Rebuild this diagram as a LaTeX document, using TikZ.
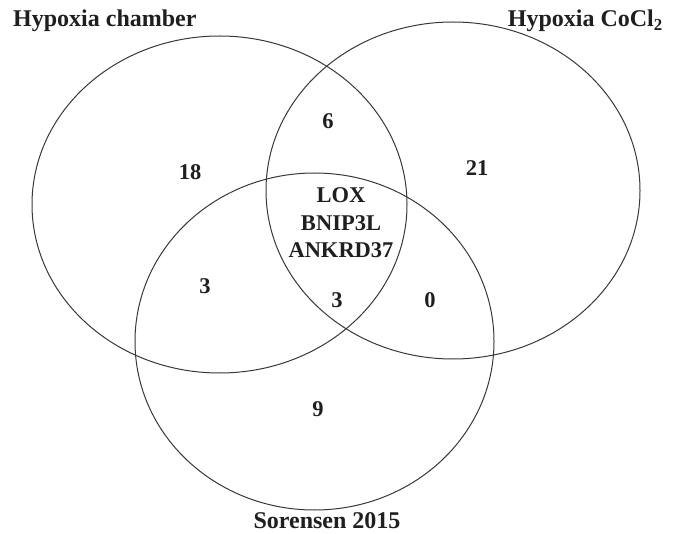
\documentclass[tikz,border=0pt]{standalone}
\usepackage{fontspec}
\setmainfont{Liberation Serif}
\begin{document}
\begin{tikzpicture}[x=1pt,y=-1pt,
  setline/.style={draw=black!78, line width=1pt},
  title/.style={font=\fontsize{24}{27}\selectfont\bfseries, text=black!88, inner sep=0pt},
  num/.style={font=\fontsize{22.5}{27.5}\selectfont\bfseries, text=black!88, inner sep=0pt, align=center}]
\useasboundingbox (0,0) rectangle (677,534);
\draw[setline] (219.5,204.5) ellipse [x radius=187.5, y radius=168.5];
\draw[setline] (453,190.5) ellipse [x radius=187, y radius=168.5];
\draw[setline] (314.5,341.5) ellipse [x radius=179.5, y radius=168.5];
\node[title, anchor=west] (tA) at (13,21) {Hypoxia chamber};
\node[title, anchor=east] (tB) at (663,21) {Hypoxia CoCl\textsubscript{2}};
\node[title] (tC) at (327,521) {Sorensen 2015};
\node[num] (n18) at (190,172) {18};
\node[num] (n6) at (328,121) {6};
\node[num] (n21) at (477,168) {21};
\node[num] (n3a) at (205,286) {3};
\node[num] (n3b) at (337,300) {3};
\node[num] (n0) at (430,300) {0};
\node[num] (n9) at (318,409) {9};
\node[num] (core) at (341,223) {LOX\\BNIP3L\\ANKRD37};
\end{tikzpicture}
\end{document}
